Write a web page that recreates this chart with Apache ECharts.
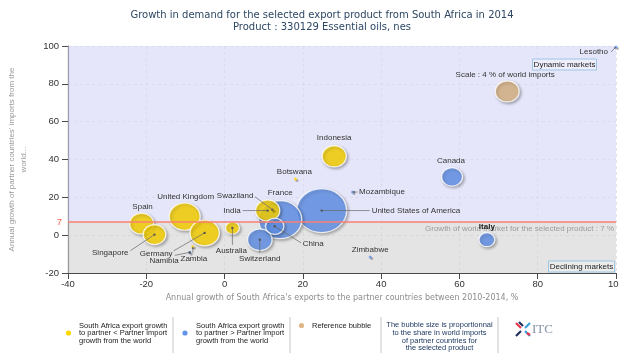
<!DOCTYPE html>
<html><head><meta charset="utf-8">
<script src="https://cdn.jsdelivr.net/npm/echarts@6/dist/echarts.min.js"></script>
<style>html,body{margin:0;padding:0;background:#fff}#c{width:619px;height:353px}</style>
</head><body><div id="c"></div>
<script>
// ---- data ----
const countries = ['Spain','Singapore','United Kingdom','Germany','Namibia','Zambia','Australia','India','Swaziland','France','China','Switzerland','United States of America','Mozambique','Botswana','Indonesia','Canada','Italy','Zimbabwe','Lesotho'];
const exportGrowth = [-21.2,-17.9,-10.2,-5.1,-8.9,-8.1,2.0,11.0,12.2,14.2,12.8,9.0,24.8,32.7,18.1,28.0,58.1,67.0,37.2,100];
const importGrowth = [6.1,0.3,9.8,1.2,-9.1,-6.1,3.8,13.0,13.5,8.2,4.7,-2.4,13.0,22.8,29.7,41.7,30.8,-2.4,-11.5,99.5];
const importShare  = [4.0,3.6,6.7,6.0,0.03,0.03,1.36,4.1,0.03,13.0,2.4,4.2,17.4,0.03,0.03,4.1,3.06,1.78,0.03,0.03];
const refLabel = ['Scale : 4 % of world imports'];
const refExport = [72.2];
const refImport = [76.0];
const refShare = [4];
const worldMarketGrowth = 7;
const xAxisRange = [-40, 100, 20];
const yAxisRange = [-20, 100, 20];

// ---- styles ----
const SANS = 'Liberation Sans, Arial, sans-serif';
const VERD = 'DejaVu Sans, Verdana, sans-serif';
const YELLOW = '#FFD700', BLUE = '#6495ED', TAN = '#DEB887';
const labelLayout = {
  'Spain': {dx:1, dy:-17},
  'Singapore': {dx:-26, dy:18, align:'right', line:[-24,16]},
  'United Kingdom': {dx:1, dy:-20},
  'Germany': {dx:-32, dy:21, align:'right', line:[-31,18]},
  'Namibia': {dx:-11, dy:8, align:'right', line:[-15,3]},
  'Zambia': {dx:1, dy:12, line:[0,6], arrow:true},
  'Australia': {dx:-1, dy:23, line:[0,17]},
  'India': {dx:-27, dy:0, align:'right', line:[-25,0]},
  'Swaziland': {dx:-19, dy:-14, align:'right', line:[-17.5,-13]},
  'France': {dx:0, dy:-27},
  'China': {dx:28, dy:17.6, align:'left', line:[26.5,16.6]},
  'Switzerland': {dx:0, dy:19, line:[0,13]},
  'United States of America': {dx:50, dy:0, align:'left', line:[48,0]},
  'Mozambique': {dx:6.5, dy:0, align:'left', line:[5,0], arrow:true},
  'Botswana': {dx:-1, dy:-7},
  'Indonesia': {dx:0, dy:-18},
  'Canada': {dx:-1, dy:-16},
  'Italy': {dx:0, dy:-13, bold:true},
  'Zimbabwe': {dx:0, dy:-7},
  'Lesotho': {dx:-8, dy:5, align:'right', line:[-5,5], arrow:true}
};

function sizeOf(s){ const w = Math.max(3, 12*Math.sqrt(s)); return [w, Math.max(3, w/1.14)]; }
const items = countries.map((n,i)=>({
  name:n, value:[exportGrowth[i], importGrowth[i], importShare[i]],
  symbolSize: sizeOf(importShare[i]),
  itemStyle:{color: exportGrowth[i] < importGrowth[i] ? YELLOW : BLUE,
             borderWidth: importShare[i] < 0.5 ? 0 : 1.3,
             shadowBlur: importShare[i] < 0.5 ? 0 : 3}
}));
items.sort((a,b)=>b.value[2]-a.value[2]);

const axisCommon = {
  type:'value',
  axisLine:{show:true, onZero:false, lineStyle:{color:'#4a4a4a', width:1.2}},
  axisTick:{show:true, inside:false, length:6, lineStyle:{color:'#4a4a4a'}},
  splitLine:{show:true, lineStyle:{color:'#d2d2dc', type:[3,3], width:0.6}},
  axisLabel:{color:'#333', fontSize:9.5, fontFamily:SANS}
};

const option = {
  animation:false,
  title:{text:'Growth in demand for the selected export product from South Africa in 2014\nProduct : 330129 Essential oils, nes',
    left:317, top:5, textAlign:'center',
    textStyle:{fontFamily:VERD, fontSize:10, fontWeight:'normal', color:'#2D4764', lineHeight:11.5}},
  grid:{left:68, right:3, top:46, bottom:80, containLabel:false, outerBoundsMode:'none'},
  xAxis:Object.assign({}, axisCommon, {
    min:xAxisRange[0], max:xAxisRange[1], interval:xAxisRange[2],
    axisLabel:Object.assign({}, axisCommon.axisLabel, {margin:6}),
    name:"Annual growth of South Africa's exports to the partner countries between 2010-2014, %",
    nameLocation:'middle', nameGap:21,
    nameTextStyle:{color:'#8c8c8c', fontSize:8, fontFamily:VERD}
  }),
  yAxis:Object.assign({}, axisCommon, {
    min:yAxisRange[0], max:yAxisRange[1], interval:yAxisRange[2],
    axisLabel:Object.assign({}, axisCommon.axisLabel, {margin:9}),
    name:"Annual growth of partner countries' imports from the\nworld...",
    nameLocation:'middle', nameGap:38,
    nameTextStyle:{color:'#9a9a9a', fontSize:8, fontFamily:SANS, lineHeight:12, align:'center'}
  }),
  series:[
    {type:'scatter', data:[], z:1, silent:true,
      markArea:{silent:true, data:[
        [{yAxis:worldMarketGrowth, itemStyle:{color:'rgba(213,213,247,0.6)'}},{yAxis:yAxisRange[1]}],
        [{yAxis:yAxisRange[0], itemStyle:{color:'rgba(210,210,210,0.6)'}},{yAxis:worldMarketGrowth}]
      ]},
      markLine:{silent:true, symbol:['none','none'], data:[
        {yAxis:worldMarketGrowth, lineStyle:{color:'#FA8072', width:1.5, type:'solid'},
          label:{position:'start', formatter:String(worldMarketGrowth), color:'#FF6347', fontSize:9.5, fontFamily:SANS, distance:6}},
        {yAxis:worldMarketGrowth, lineStyle:{color:'rgba(0,0,0,0)', width:0},
          label:{show:true, position:'insideEndBottom', formatter:'Growth of world market for the selected product : ' + worldMarketGrowth + ' %', color:'#9a9a9a', fontSize:8, fontFamily:SANS, distance:[2,3]}}
      ]}
    },
    {type:'scatter', name:'partners', z:3, data:items,
      itemStyle:{borderColor:'#fff', shadowColor:'rgba(0,0,0,0.35)', shadowOffsetX:1.5, shadowOffsetY:1.5}},
    {type:'scatter', name:'reference', z:3,
      data:refLabel.map((n,i)=>({name:n, value:[refExport[i], refImport[i], refShare[i]], symbolSize:sizeOf(refShare[i])})),
      itemStyle:{color:TAN, borderColor:'#fff', borderWidth:1.3, shadowBlur:3, shadowColor:'rgba(0,0,0,0.35)', shadowOffsetX:1.5, shadowOffsetY:1.5}}
  ]
};

const chart = echarts.init(document.getElementById('c'));
chart.setOption(option);

// ---- annotations computed from the scales ----
const g = [];
const txt = (x,y,t,o)=>Object.assign({type:'text', x:x, y:y, z:50, silent:true,
  style:Object.assign({text:t, fill:'#333', font:'8px '+SANS, textAlign:'center', textVerticalAlign:'middle'}, o||{})});

countries.forEach((n,i)=>{
  const p = chart.convertToPixel({gridIndex:0}, [exportGrowth[i], importGrowth[i]]);
  const L = labelLayout[n]; if(!L) return;
  if (L.line){
    const ex = p[0]+L.line[0], ey = p[1]+L.line[1];
    g.push({type:'line', z:49, silent:true, shape:{x1:p[0],y1:p[1],x2:ex,y2:ey}, style:{stroke:'#666', lineWidth:0.7}});
    if (L.arrow){
      const a = Math.atan2(p[1]-ey, p[0]-ex), s = 2.5;
      g.push({type:'polygon', z:49, silent:true, shape:{points:[[p[0],p[1]],
        [p[0]-s*Math.cos(a-0.5), p[1]-s*Math.sin(a-0.5)],[p[0]-s*Math.cos(a+0.5), p[1]-s*Math.sin(a+0.5)]]}, style:{fill:'#666'}});
    } else {
      g.push({type:'circle', z:49, silent:true, shape:{cx:p[0], cy:p[1], r:1.2}, style:{fill:'#555'}});
    }
  }
  g.push(txt(p[0]+L.dx, p[1]+L.dy, n, {textAlign:L.align||'center', font:(L.bold?'bold ':'')+'8px '+SANS, fill:L.bold?'#222':'#333'}));
});
refLabel.forEach((n,i)=>{
  const p = chart.convertToPixel({gridIndex:0}, [refExport[i], refImport[i]]);
  g.push(txt(p[0]-2, p[1]-17, n));
});

// market boxes
g.push({type:'rect', z:48, silent:true, shape:{x:532.5, y:59, width:64, height:11}, style:{fill:'#eeeefc', stroke:'#9cc6e4', lineWidth:1}});
g.push(txt(564.5, 64.5, 'Dynamic markets', {fill:'#222'}));
g.push({type:'rect', z:48, silent:true, shape:{x:548.5, y:261, width:66, height:11}, style:{fill:'#ececec', stroke:'#9cc6e4', lineWidth:1}});
g.push(txt(581.5, 266.5, 'Declining markets', {fill:'#222'}));

// legend
const legFont = '7.5px '+SANS;
[[173,317,353],[290,317,353],[381,317,353],[498,317,353]].forEach(s=>{
  g.push({type:'line', silent:true, shape:{x1:s[0],y1:s[1],x2:s[0],y2:s[2]}, style:{stroke:'#c8c8c8', lineWidth:1}});
});
g.push({type:'circle', silent:true, shape:{cx:68.5, cy:333, r:2.6}, style:{fill:YELLOW}});
g.push(txt(79, 322, 'South Africa export growth\nto partner < Partner import\ngrowth from the world', {textAlign:'left', textVerticalAlign:'top', font:legFont, lineHeight:7.6, fill:'#222'}));
g.push({type:'circle', silent:true, shape:{cx:185, cy:333, r:2.6}, style:{fill:BLUE}});
g.push(txt(196, 322, 'South Africa export growth\nto partner > Partner import\ngrowth from the world', {textAlign:'left', textVerticalAlign:'top', font:legFont, lineHeight:7.6, fill:'#222'}));
g.push({type:'circle', silent:true, shape:{cx:301.5, cy:325.5, r:2.6}, style:{fill:TAN}});
g.push(txt(312, 322, 'Reference bubble', {textAlign:'left', textVerticalAlign:'top', font:legFont, fill:'#222'}));
g.push(txt(439.5, 321.5, 'The bubble size is proportionnal\nto the share in world imports\nof partner countries for\nthe selected product', {textAlign:'center', textVerticalAlign:'top', font:legFont, lineHeight:7.6, fill:'#1F3B63'}));

// ITC logo
const strokes = [
  [516,323,521,328,'#E8384F'],[525,331,530,336,'#3A9FDB'],
  [530,323,525,328,'#3A9FDB'],[521,331,516,336,'#1F2F5A'],
  [519,322,523,326,'#1F2F5A'],[527,333,530,335,'#E8384F']
];
strokes.forEach(s=>g.push({type:'line', silent:true, shape:{x1:s[0],y1:s[1],x2:s[2],y2:s[3]}, style:{stroke:s[4], lineWidth:2.2}}));
g.push(txt(532, 329.5, 'ITC', {textAlign:'left', font:'13px Liberation Serif, serif', fill:'#8493A8'}));

chart.setOption({graphic:g});
</script></body></html>
